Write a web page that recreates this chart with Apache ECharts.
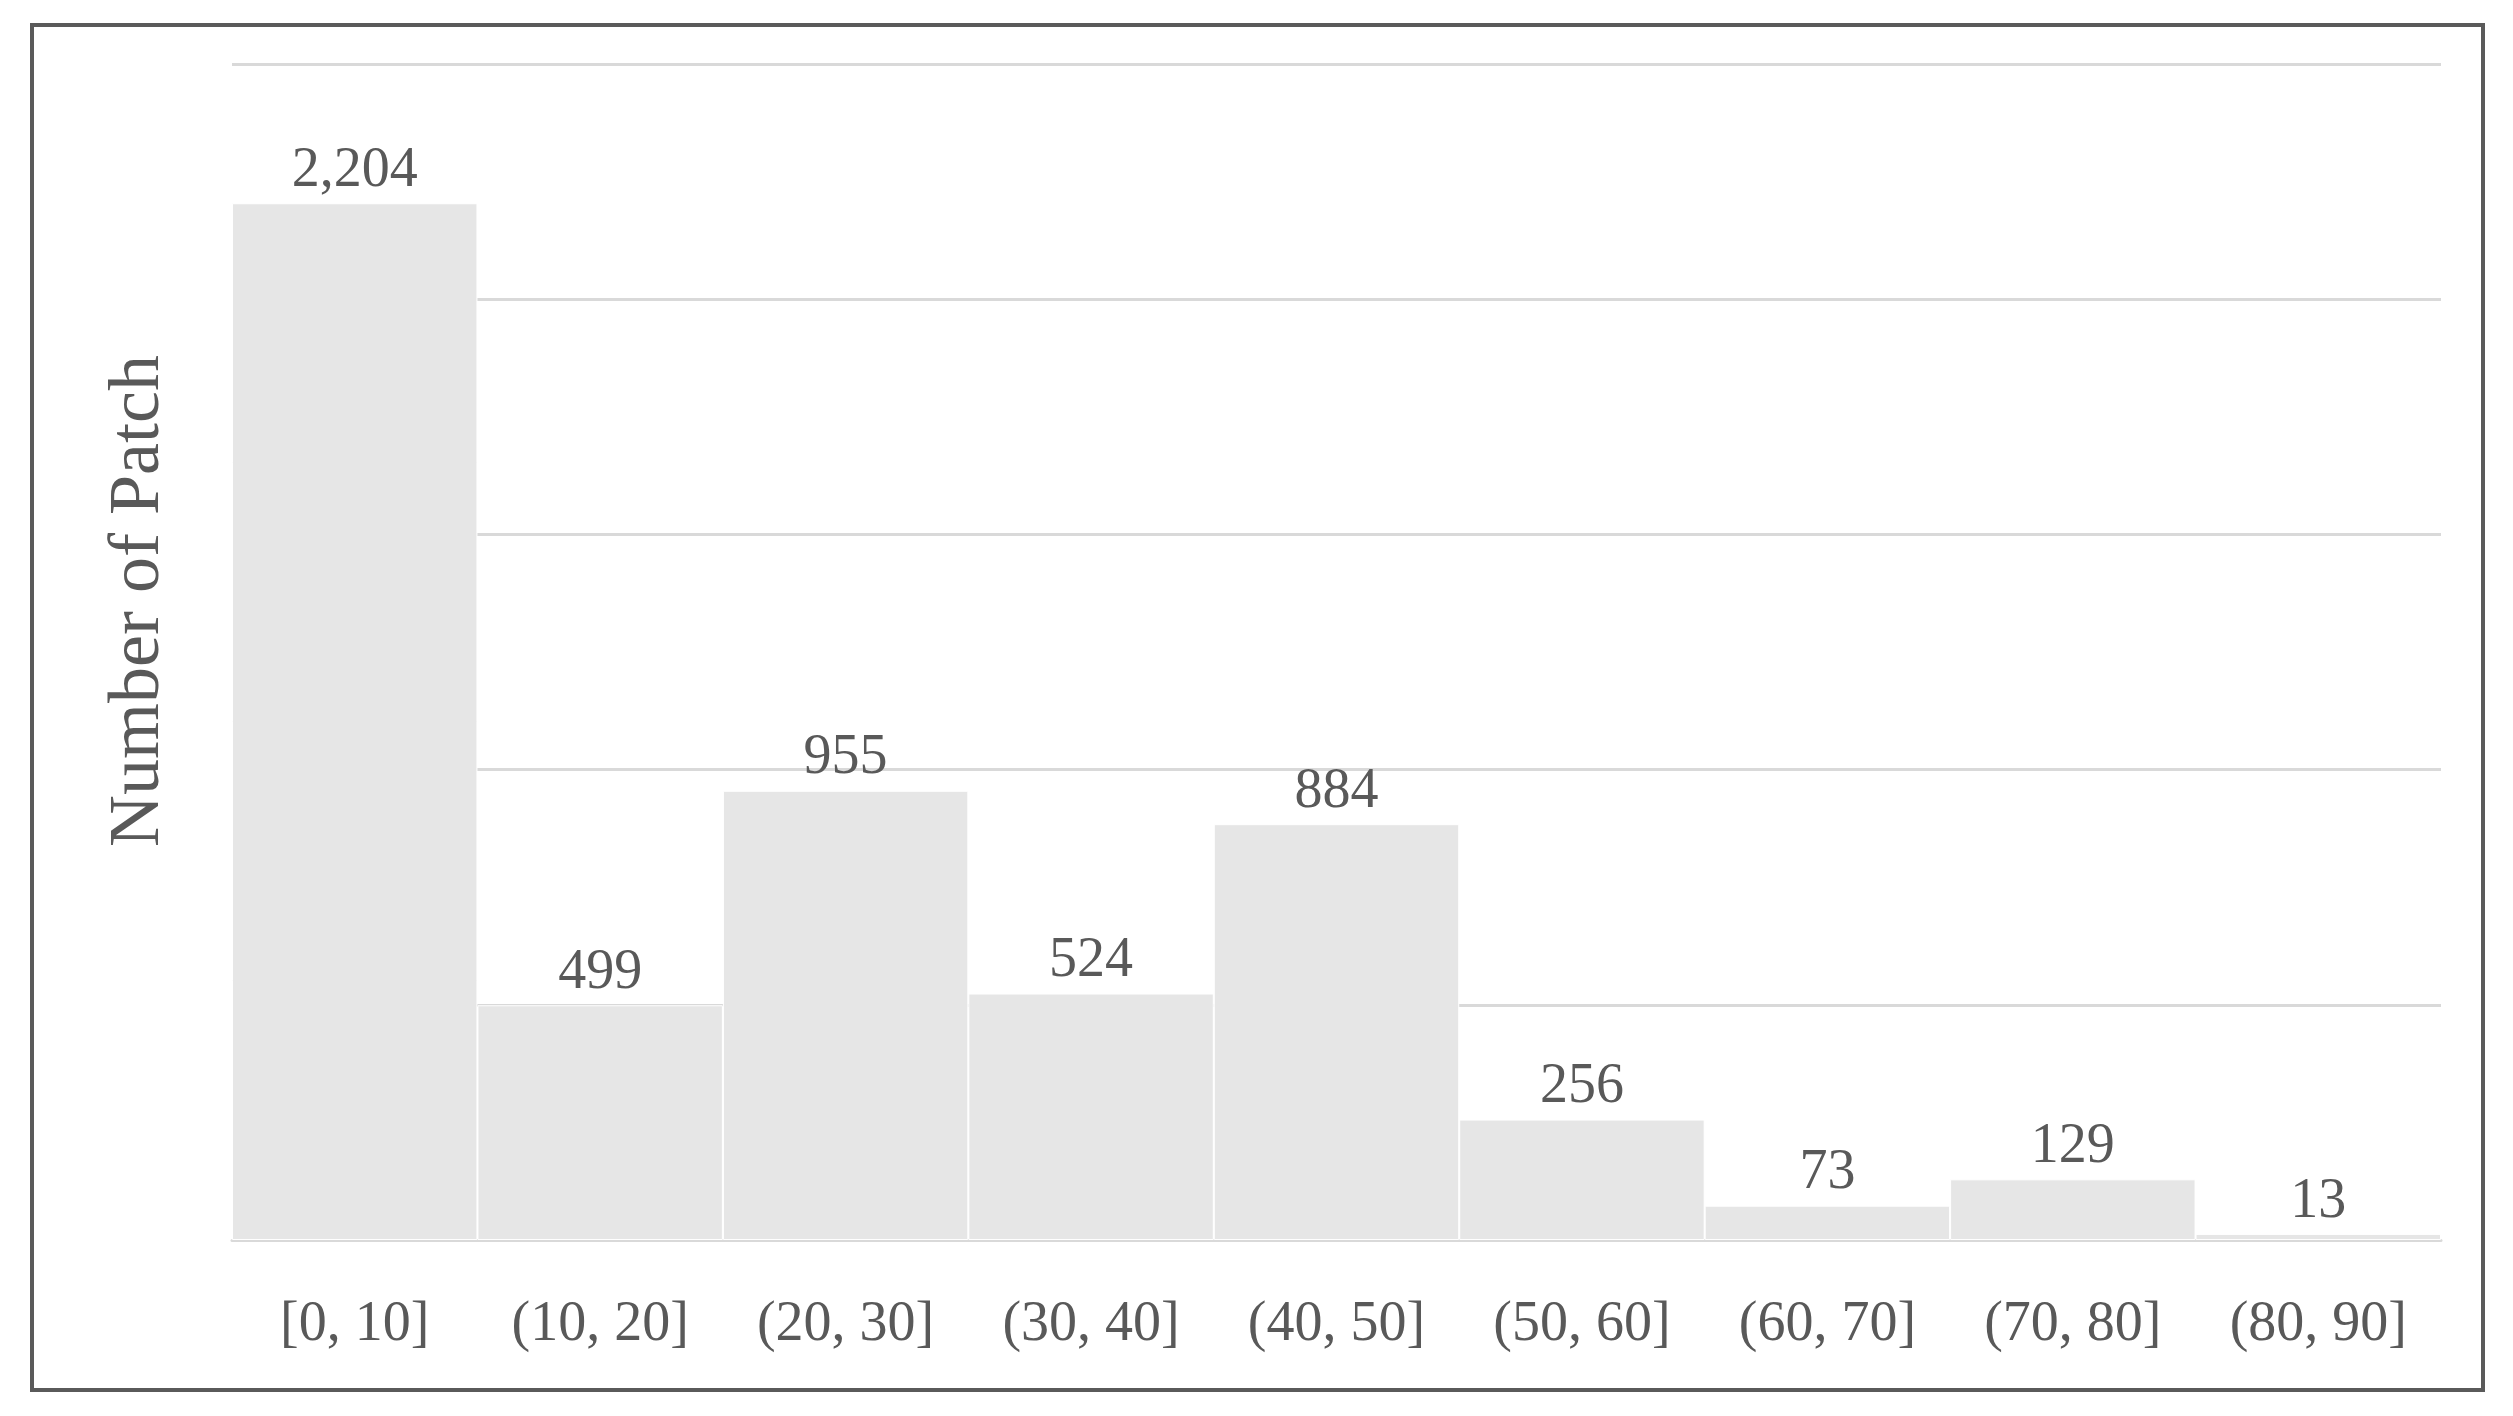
<!DOCTYPE html>
<html>
<head>
<meta charset="utf-8">
<script src="https://cdn.jsdelivr.net/npm/echarts@6/dist/echarts.min.js"></script>
<style>
html,body{margin:0;padding:0;background:#fff;}
#chart{width:2513px;height:1416px;}
</style>
</head>
<body>
<div id="chart"></div>
<script>
const categories = ['[0, 10]', '(10, 20]', '(20, 30]', '(30, 40]', '(40, 50]', '(50, 60]', '(60, 70]', '(70, 80]', '(80, 90]'];
const patchCounts = [2204, 499, 955, 524, 884, 256, 73, 129, 13];
const yAxisTitle = 'Number of Patch';
const yMax = 2500;
const yInterval = 500;

const FONT = '"Liberation Serif", "DejaVu Serif", serif';
const TEXT = '#595959';

const chart = echarts.init(document.getElementById('chart'), null, {renderer: 'canvas'});
chart.setOption({
  backgroundColor: '#ffffff',
  animation: false,
  grid: {left: 232, right: 72, top: 64, bottom: 176, containLabel: false},
  xAxis: {
    type: 'category',
    data: categories,
    axisLine: {show: true, lineStyle: {color: '#d9d9d9', width: 3}},
    axisTick: {show: false},
    axisLabel: {color: TEXT, fontFamily: FONT, fontSize: 56, margin: 57, interval: 0}
  },
  yAxis: {
    type: 'value',
    min: 0,
    max: yMax,
    interval: yInterval,
    axisLine: {show: false},
    axisTick: {show: false},
    axisLabel: {show: false},
    splitLine: {show: true, lineStyle: {color: '#d9d9d9', width: 3}}
  },
  graphic: [
    {
      type: 'rect',
      shape: {x: 32, y: 25, width: 2451, height: 1365},
      style: {fill: 'none', stroke: '#5a5a5a', lineWidth: 4},
      silent: true
    },
    {
      type: 'text',
      x: 139,
      y: 601,
      rotation: Math.PI / 2,
      style: {
        text: yAxisTitle,
        fill: TEXT,
        font: '72px ' + FONT,
        textAlign: 'center',
        textVerticalAlign: 'middle'
      },
      silent: true
    }
  ],
  series: [{
    type: 'bar',
    data: patchCounts,
    barCategoryGap: '0%',
    itemStyle: {color: '#e6e6e6', borderColor: '#ffffff', borderWidth: 1},
    label: {
      show: true,
      position: 'top',
      distance: 4,
      color: TEXT,
      fontFamily: FONT,
      fontSize: 56,
      formatter: p => Number(p.value).toLocaleString('en-US')
    }
  }]
});
</script>
</body>
</html>
